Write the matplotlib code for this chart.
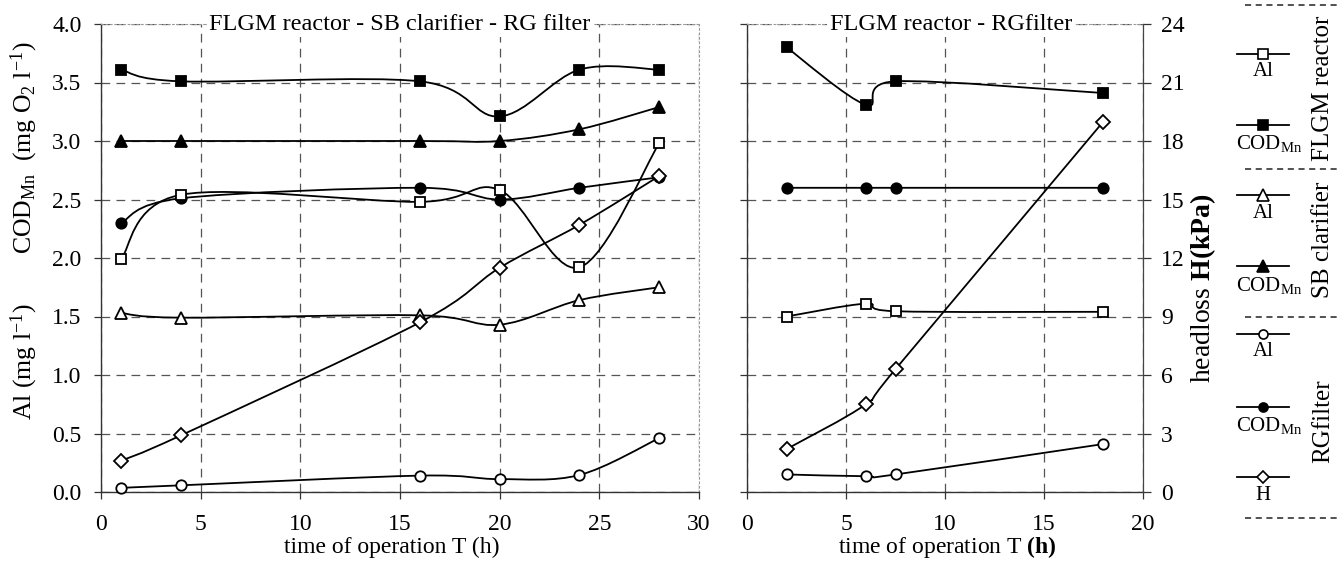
import numpy as np
import matplotlib
matplotlib.use("Agg")
import matplotlib.pyplot as plt
from matplotlib.path import Path
from matplotlib.patches import PathPatch
from matplotlib.ticker import FormatStrFormatter, MultipleLocator

plt.rcParams['font.family'] = ['Liberation Serif', 'DejaVu Serif']
plt.rcParams['mathtext.fontset'] = 'custom'
plt.rcParams['mathtext.rm'] = 'Liberation Serif'
plt.rcParams['mathtext.it'] = 'Liberation Serif:italic'
plt.rcParams['mathtext.bf'] = 'Liberation Serif:bold'

# ---- run 1: FLGM reactor - SB clarifier - RG filter ----
t_run1 = [1, 4, 16, 20, 24, 28]
flgm_cod_run1 = [3.61, 3.51, 3.51, 3.21, 3.61, 3.61]
flgm_al_run1 = [1.99, 2.54, 2.48, 2.58, 1.92, 2.98]
sb_cod_run1 = [3.00, 3.00, 3.00, 3.00, 3.10, 3.29]
sb_al_run1 = [1.53, 1.49, 1.51, 1.43, 1.64, 1.75]
rg_cod_run1 = [2.30, 2.51, 2.60, 2.50, 2.60, 2.69]
rg_al_run1 = [0.035, 0.057, 0.14, 0.11, 0.145, 0.46]
rg_h_run1 = [1.6, 2.9, 8.7, 11.5, 13.7, 16.2]      # kPa

# ---- run 2: FLGM reactor - RG filter ----
t_run2 = [2, 6, 7.5, 18]
flgm_cod_run2 = [3.80, 3.31, 3.51, 3.41]
flgm_al_run2 = [1.50, 1.61, 1.545, 1.54]
rg_cod_run2 = [2.60, 2.60, 2.60, 2.60]
rg_al_run2 = [0.15, 0.135, 0.15, 0.41]
rg_h_run2 = [2.2, 4.5, 6.3, 19.0]                  # kPa

conc_ticks = np.arange(0, 4.01, 0.5)
h_ticks = np.arange(0, 25, 3)

W, H = 1337, 570
FS = 17
GRID = dict(color='#555555', lw=0.9, ls=(0, (7, 5)))

fig = plt.figure(figsize=(W / 100, H / 100), dpi=100)


def px_box(x0, x1, y0, y1):
    return [x0 / W, 1 - y1 / H, (x1 - x0) / W, (y1 - y0) / H]


def smooth_line(ax, x, y, **kw):
    """Smoothed polyline through the points (cubic Bezier, Catmull-Rom tangents)."""
    x = np.asarray(x, float)
    y = np.asarray(y, float)
    n = len(x)
    verts = [(x[0], y[0])]
    codes = [Path.MOVETO]
    for i in range(n - 1):
        p0 = np.array([x[max(i - 1, 0)], y[max(i - 1, 0)]])
        p1 = np.array([x[i], y[i]])
        p2 = np.array([x[i + 1], y[i + 1]])
        p3 = np.array([x[min(i + 2, n - 1)], y[min(i + 2, n - 1)]])
        c1 = p1 + (p2 - p0) / 6.0
        c2 = p2 - (p3 - p1) / 6.0
        verts += [tuple(c1), tuple(c2), tuple(p2)]
        codes += [Path.CURVE4] * 3
    patch = PathPatch(Path(verts, codes), fill=False, ec='black', lw=1.3,
                      zorder=3, **kw)
    ax.add_patch(patch)


MARKERS = {
    'flgm_al': dict(marker='s', mfc='white', ms=7.5),
    'flgm_cod': dict(marker='s', mfc='black', ms=7.5),
    'sb_al': dict(marker='^', mfc='white', ms=9),
    'sb_cod': dict(marker='^', mfc='black', ms=9),
    'rg_al': dict(marker='o', mfc='white', ms=7.5),
    'rg_cod': dict(marker='o', mfc='black', ms=7.5),
    'rg_h': dict(marker='D', mfc='white', ms=7),
}


def series(ax, x, y, key):
    smooth_line(ax, x, y)
    ax.plot(x, y, ls='none', mec='black', mew=1.3, zorder=4, clip_on=False,
            **MARKERS[key])


def style_panel(ax, xmax, show_ylabels):
    ax.set_xlim(0, xmax)
    ax.set_ylim(0, 4)
    ax.xaxis.set_major_locator(MultipleLocator(5))
    ax.set_yticks(conc_ticks)
    ax.yaxis.set_major_formatter(FormatStrFormatter('%.1f'))
    ax.tick_params(axis='x', direction='out', length=5, width=0.9, pad=11,
                   labelsize=FS, color='#333333')
    ax.tick_params(axis='y', direction='out', length=5, width=0.9, pad=9,
                   labelsize=FS, color='#333333', labelleft=show_ylabels)
    ax.grid(True, **GRID)
    ax.set_axisbelow(True)
    for s in ('left', 'bottom'):
        ax.spines[s].set_color('#333333')
        ax.spines[s].set_linewidth(1.0)
    for s in ('top', 'right'):
        ax.spines[s].set_color('#999999')
        ax.spines[s].set_linewidth(0.8)
        ax.spines[s].set_linestyle((0, (1.5, 2.5)))


# ---------------- left panel ----------------
ax1 = fig.add_axes(px_box(101, 699, 24, 492))
style_panel(ax1, 30, True)
ax1h = ax1.twinx()
ax1h.set_ylim(0, 24)
ax1h.set_yticks([])
for s in ax1h.spines.values():
    s.set_visible(False)

series(ax1, t_run1, flgm_cod_run1, 'flgm_cod')
series(ax1, t_run1, sb_cod_run1, 'sb_cod')
series(ax1, t_run1, rg_cod_run1, 'rg_cod')
series(ax1, t_run1, flgm_al_run1, 'flgm_al')
series(ax1, t_run1, sb_al_run1, 'sb_al')
series(ax1, t_run1, rg_al_run1, 'rg_al')
series(ax1h, t_run1, rg_h_run1, 'rg_h')

ax1.text(0.5, 1.0, 'FLGM reactor - SB clarifier - RG filter', transform=ax1.transAxes,
         ha='center', va='center', fontsize=FS + 0.5, zorder=10,
         bbox=dict(fc='white', ec='none', pad=2))

# ---------------- right panel ----------------
ax2 = fig.add_axes(px_box(747, 1143, 24, 492))
style_panel(ax2, 20, False)
ax2.spines['right'].set_visible(False)
ax2h = ax2.twinx()
ax2h.set_ylim(0, 24)
ax2h.set_yticks(h_ticks)
ax2h.tick_params(axis='y', direction='out', length=6, width=0.9, pad=7,
                 labelsize=FS, color='#333333')
for s in ('left', 'top', 'bottom'):
    ax2h.spines[s].set_visible(False)
ax2h.spines['right'].set_color('#444444')
ax2h.spines['right'].set_linewidth(0.9)

series(ax2, t_run2, flgm_cod_run2, 'flgm_cod')
series(ax2, t_run2, rg_cod_run2, 'rg_cod')
series(ax2, t_run2, flgm_al_run2, 'flgm_al')
series(ax2, t_run2, rg_al_run2, 'rg_al')
series(ax2h, t_run2, rg_h_run2, 'rg_h')

fig.text(951 / W, 1 - 24 / H, 'FLGM reactor - RGfilter', ha='center', va='center',
         fontsize=FS + 0.5, zorder=10, bbox=dict(fc='white', ec='none', pad=2))

# ---------------- axis titles ----------------
fig.text(392 / W, 1 - 553 / H, 'time of operation T (h)', ha='center',
         va='baseline', fontsize=FS)
fig.text(947 / W, 1 - 553 / H, r'time of operation T $\mathbf{(h)}$', ha='center',
         va='baseline', fontsize=FS)
fig.text(24 / W, 1 - 148 / H, r'COD$_{\rm Mn}$  (mg O$_2$ l$^{-1}$)', rotation=90,
         ha='center', va='center', fontsize=18.5)
fig.text(24 / W, 1 - 362 / H, r'Al (mg l$^{-1}$)', rotation=90,
         ha='center', va='center', fontsize=18.5)
fig.text(1203 / W, 1 - 288 / H, r'headloss $\mathbf{H(kPa)}$', rotation=90,
         ha='center', va='center', fontsize=20)

# ---------------- grouped key ----------------
lg = fig.add_axes([0, 0, 1, 1], facecolor='none')
lg.set_xlim(0, W)
lg.set_ylim(H, 0)
lg.axis('off')

key_rows = [
    ('flgm_al', 54, 'Al'),
    ('flgm_cod', 125, r'COD$_{\rm Mn}$'),
    ('sb_al', 195, 'Al'),
    ('sb_cod', 266, r'COD$_{\rm Mn}$'),
    ('rg_al', 334, 'Al'),
    ('rg_cod', 407, r'COD$_{\rm Mn}$'),
    ('rg_h', 477, 'H'),
]
for key, yk, label in key_rows:
    lg.plot([1237, 1289], [yk, yk], color='black', lw=1.3)
    lg.plot([1263], [yk], ls='none', mec='black', mew=1.2,
            **{**MARKERS[key], 'ms': MARKERS[key]['ms'] - 1})
    if label.startswith('COD'):
        lg.text(1236, yk + 19, label, ha='left', va='center', fontsize=15)
    else:
        lg.text(1263, yk + 18, label, ha='center', va='center', fontsize=15)

for ys in (5, 169, 317, 518):
    lg.plot([1245, 1337], [ys, ys], color='#222222', lw=1.1, ls=(0, (4, 3)))

for yc, label in ((88, 'FLGM reactor'), (240, 'SB clarifier'), (421, 'RGfilter')):
    lg.text(1323, yc, label, rotation=90, ha='center', va='center', fontsize=18)

fig.savefig('out.png', dpi=100, facecolor='white')
